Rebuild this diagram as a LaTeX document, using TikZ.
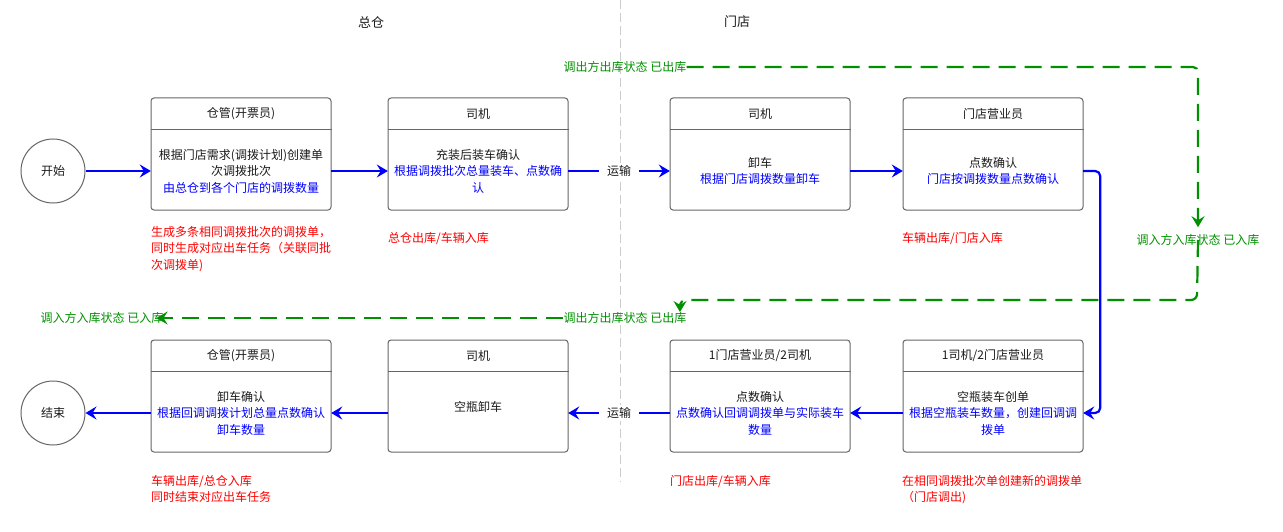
\documentclass[tikz,border=0pt]{standalone}
\usepackage{fontspec}
\setmainfont{Noto Sans CJK SC}
\usetikzlibrary{arrows.meta}
\definecolor{boxgray}{HTML}{666666}
\definecolor{txt}{HTML}{1A1A1A}
\definecolor{fb}{HTML}{0000FF}
\definecolor{tb}{HTML}{0000FF}
\definecolor{tr}{HTML}{FF0000}
\definecolor{gr}{HTML}{009000}
\definecolor{sepgray}{HTML}{CCCCCC}
\begin{document}
\begin{tikzpicture}[x=1pt,y=-1pt,
  font=\fontsize{12}{16.5}\selectfont,
  frame/.style={draw=boxgray, line width=1pt, rounded corners=3pt, minimum width=180pt, minimum height=112pt, inner sep=0pt},
  hline/.style={draw=boxgray, line width=1pt},
  head/.style={inner sep=0pt, text=txt},
  body/.style={minimum width=180pt, minimum height=80pt, inner sep=0pt, align=center, text=txt},
  circ/.style={circle, draw=boxgray, line width=1pt, minimum size=64pt, inner sep=0pt, text=txt},
  flow/.style={draw=fb, line width=2.2pt, -{Stealth[length=11pt,width=13pt,inset=4pt]}},
  lbl/.style={fill=white, text=txt, inner xsep=8pt, inner ysep=2pt},
  gflow/.style={draw=gr, line width=2.2pt, dash pattern=on 17pt off 9pt, -{Stealth[length=11pt,width=13pt,inset=4pt]}},
  gtxt/.style={text=gr, inner sep=0pt},
  rtxt/.style={text=tr, inner sep=0pt, align=left, anchor=north west},
  ttl/.style={text=txt, inner sep=0pt, font=\fontsize{13}{16}\selectfont},
  sep/.style={draw=sepgray, line width=1pt, dash pattern=on 9pt off 4pt}
]
\useasboundingbox (0,0) rectangle (1283,532);

% divider and titles
\draw[sep] (620,0) -- (620,482);
\node[ttl] (t1) at (371,22) {总仓};
\node[ttl] (t2) at (737,22) {门店};

% start / end
\node[circ] (s) at (53,171) {开始};
\node[circ] (e) at (53,413) {结束};

% top row frames
\node[frame] (b1) at (241,154) {};
\node[frame] (b2) at (478,154) {};
\node[frame] (b3) at (760,154) {};
\node[frame] (b4) at (993,154) {};
% bottom row frames
\node[frame] (b8) at (241,396) {};
\node[frame] (b7) at (478,396) {};
\node[frame] (b6) at (760,396) {};
\node[frame] (b5) at (993,396) {};

\foreach \b in {b1,b2,b3,b4,b5,b6,b7,b8}{
  \draw[hline] ([yshift=-32pt]\b.north west) -- ([yshift=-32pt]\b.north east);
}

% headers
\node[head] (h1) at (241,114) {仓管(开票员)};
\node[head] (h2) at (478,114) {司机};
\node[head] (h3) at (760,114) {司机};
\node[head] (h4) at (993,114) {门店营业员};
\node[head] (h8) at (241,356) {仓管(开票员)};
\node[head] (h7) at (478,356) {司机};
\node[head] (h6) at (760,356) {1门店营业员/2司机};
\node[head] (h5) at (993,356) {1司机/2门店营业员};

% bodies
\node[body] (b1b) at (241,171) {根据门店需求(调拨计划)创建单\\次调拨批次\\\textcolor{tb}{由总仓到各个门店的调拨数量}};
\node[body] (b2b) at (478,171) {充装后装车确认\\\textcolor{tb}{根据调拨批次总量装车、点数确}\\\textcolor{tb}{认}};
\node[body] (b3b) at (760,171) {卸车\\\textcolor{tb}{根据门店调拨数量卸车}};
\node[body] (b4b) at (993,171) {点数确认\\\textcolor{tb}{门店按调拨数量点数确认}};
\node[body] (b5b) at (993,413) {空瓶装车创单\\\textcolor{tb}{根据空瓶装车数量，创建回调调}\\\textcolor{tb}{拨单}};
\node[body] (b6b) at (760,413) {点数确认\\\textcolor{tb}{点数确认回调调拨单与实际装车}\\\textcolor{tb}{数量}};
\node[body] (b7b) at (478,413) {};
\node[head] (b7t) at (478,407) {空瓶卸车};
\node[body] (b8b) at (241,413) {卸车确认\\\textcolor{tb}{根据回调调拨计划总量点数确认}\\\textcolor{tb}{卸车数量}};

% blue flow
\draw[flow] (s) -- (b1b);
\draw[flow] (b1b) -- (b2b);
\draw[flow] (b2b) -- node[lbl] (y1) {运输} (b3b);
\draw[flow] (b3b) -- (b4b);
\draw[flow, rounded corners=5pt] (b4b.east) -- ++(17,0) |- (b5b.east);
\draw[flow] (b5b) -- (b6b);
\draw[flow] (b6b) -- node[lbl] (y2) {运输} (b7b);
\draw[flow] (b7b) -- (b8b);
\draw[flow] (b8b) -- (e);

% green status labels
\node[gtxt] (g1) at (625,67) {调出方出库状态 已出库};
\node[gtxt] (g2) at (1198,240) {调入方入库状态 已入库};
\node[gtxt] (g3) at (625,318) {调出方出库状态 已出库};
\node[gtxt] (g4) at (102,318) {调入方入库状态 已入库};
\coordinate (gc1) at (1197,300);
\coordinate (gc2) at (680,312);

\draw[gflow, rounded corners=5pt] (g1.east) -| ([yshift=7pt]g2.north);
\draw[gflow, rounded corners=6pt] (g2.center) -- (gc1) -| (gc2);
\draw[gflow] (g3.west) -- ([xshift=-7pt]g4.east);

% red notes
\node[rtxt] (r1) at (151,226) {生成多条相同调拨批次的调拨单，\\同时生成对应出车任务（关联同批\\次调拨单)};
\node[rtxt] (r2) at (388,232) {总仓出库/车辆入库};
\node[rtxt] (r3) at (902,232) {车辆出库/门店入库};
\node[rtxt] (r4) at (151,475) {车辆出库/总仓入库\\同时结束对应出车任务};
\node[rtxt] (r5) at (670,475) {门店出库/车辆入库};
\node[rtxt] (r6) at (902,475) {在相同调拨批次单创建新的调拨单\\（门店调出)};
\end{tikzpicture}
\end{document}
